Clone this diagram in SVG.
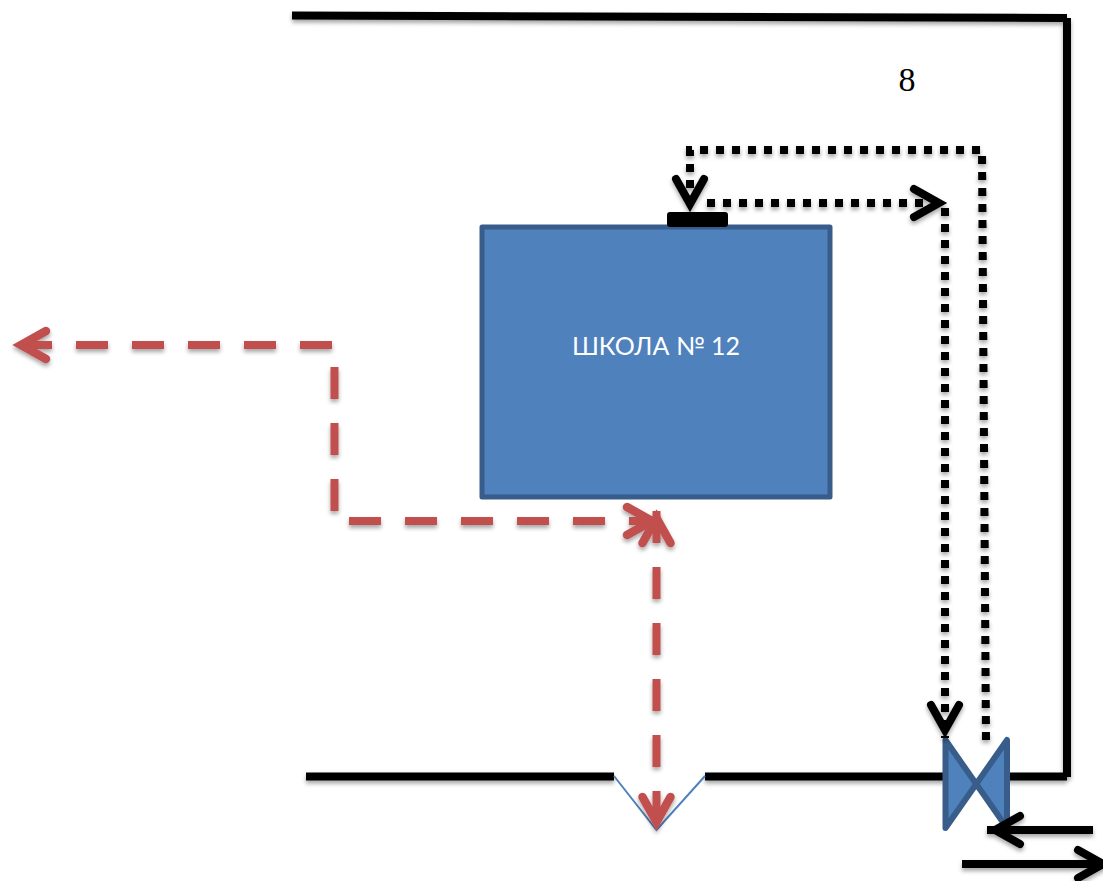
<svg xmlns="http://www.w3.org/2000/svg" width="1103" height="881" viewBox="0 0 1103 881">
  <style>
    .wall { fill: none; stroke: #000; stroke-width: 8; }
    .dot { fill: none; stroke: #000; stroke-width: 8; stroke-dasharray: 8 8; }
    .dash { fill: none; stroke: #c0504d; stroke-width: 8; stroke-dasharray: 32 24; }
    .solid { fill: none; stroke: #000; stroke-width: 8; }
    .hb { fill: none; stroke: #000; stroke-width: 8; stroke-linecap: round; stroke-linejoin: miter; stroke-miterlimit: 10; }
    .hr { fill: none; stroke: #c0504d; stroke-width: 8.5; stroke-linecap: round; stroke-linejoin: miter; stroke-miterlimit: 10; }
  </style>
  <defs>
    <filter id="shadow" filterUnits="userSpaceOnUse" x="0" y="0" width="1103" height="881">
      <feDropShadow dx="0" dy="3" stdDeviation="2" flood-color="#000" flood-opacity="0.35"/>
    </filter>
    <marker id="headBlack" markerUnits="userSpaceOnUse" viewBox="-42 -22 46 44" refX="0" refY="0" markerWidth="46" markerHeight="44" orient="auto">
      <path class="hb" d="M-33,-14 L-8,0 L-33,14"/>
    </marker>
    <marker id="headRed" markerUnits="userSpaceOnUse" viewBox="-42 -22 46 44" refX="0" refY="0" markerWidth="46" markerHeight="44" orient="auto">
      <path class="hr" d="M-33,-14 L-8,0 L-33,14"/>
    </marker>
  </defs>

  <g id="walls" filter="url(#shadow)">
    <path class="wall" d="M292,15.5 L1067,18"/>
    <path class="wall" d="M1067,18 V777"/>
    <path class="wall" d="M306,776.5 H614"/>
    <path class="wall" d="M705,776.5 H945"/>
    <path class="wall" d="M1007,776.5 H1067"/>
  </g>

  <g id="notch">
    <path d="M614,776 L656.5,830 L705,776" fill="none" stroke="#4f81bd" stroke-width="2"/>
  </g>

  <g id="school">
    <rect x="482" y="227" width="348" height="270" fill="#4f81bd" stroke="#385d8a" stroke-width="5" stroke-linejoin="round"/>
    <text x="656" y="355" text-anchor="middle" font-family="Lato, 'Open Sans', sans-serif" font-size="25" fill="#fff">ШКОЛА № 12</text>
  </g>

  <g id="entrance">
    <rect x="667" y="212" width="61" height="15" rx="3" fill="#000"/>
  </g>

  <g id="gate">
    <polygon points="945.5,740 945.5,828 1007,740 1007,828" fill="#4f81bd" stroke="#385d8a" stroke-width="6" stroke-linejoin="round"/>
  </g>

  <g id="label-8">
    <text x="907" y="91" text-anchor="middle" font-family="'Liberation Serif', serif" font-size="34" fill="#000">8</text>
  </g>

  <g id="connectors" filter="url(#shadow)">
    <path class="dot" d="M986,740 L982,150 H690 V212" marker-end="url(#headBlack)"/>
    <path class="dot" d="M707,203 H947" marker-end="url(#headBlack)"/>
    <path class="dot" d="M945,208 V738" marker-end="url(#headBlack)"/>
    <path class="dash" d="M332,345 H13" marker-end="url(#headRed)"/>
    <path class="dash" d="M334.5,367 V511"/>
    <path class="dash" d="M349,521 H660" marker-end="url(#headRed)"/>
    <path class="dash" d="M656.5,767 V510" marker-end="url(#headRed)"/>
    <path class="dash" d="M656.5,791 V830" marker-end="url(#headRed)"/>
    <path class="solid" d="M1093,830 H987" marker-end="url(#headBlack)"/>
    <path class="solid" d="M962,864 H1111" marker-end="url(#headBlack)"/>
  </g>
</svg>
